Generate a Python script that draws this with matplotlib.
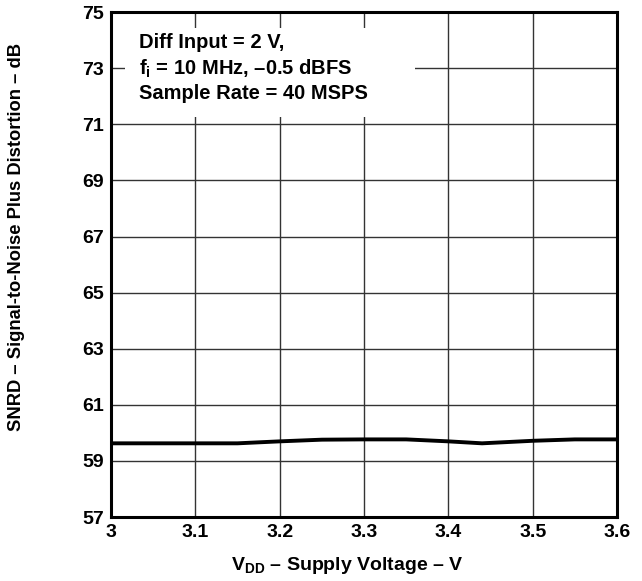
import matplotlib.pyplot as plt
from matplotlib.patches import Rectangle

plt.rcParams['font.family'] = ['Liberation Sans', 'DejaVu Sans']
plt.rcParams['font.weight'] = 'bold'
plt.rcParams['mathtext.fontset'] = 'custom'
plt.rcParams['mathtext.bf'] = 'Liberation Sans:bold'
plt.rcParams['mathtext.rm'] = 'Liberation Sans:bold'

vdd = [3.0, 3.1, 3.15, 3.2, 3.25, 3.3, 3.35, 3.4, 3.44, 3.5, 3.55, 3.6]
snrd = [59.63, 59.63, 59.63, 59.7, 59.76, 59.77, 59.77, 59.7, 59.63, 59.72, 59.77, 59.77]
xticks = [3, 3.1, 3.2, 3.3, 3.4, 3.5, 3.6]
xlabels = ["3", "3.1", "3.2", "3.3", "3.4", "3.5", "3.6"]
yticks = [57, 59, 61, 63, 65, 67, 69, 71, 73, 75]

fig = plt.figure(figsize=(6.42, 5.81), dpi=100)
ax = fig.add_axes([0.173, 0.110, 0.788, 0.869])
ax.plot(vdd, snrd, color='black', lw=2.8, zorder=3)
ax.set_xlim(3, 3.6)
ax.set_ylim(57, 75)
ax.set_xticks(xticks)
ax.set_xticklabels(xlabels)
ax.set_yticks(yticks)
ax.grid(True, color='#333333', lw=1)
ax.tick_params(length=0, labelsize=14, pad=5)
for lbl in ax.get_xticklabels() + ax.get_yticklabels():
    lbl.set_fontweight('bold')
for s in ax.spines.values():
    s.set_linewidth(2.2)
ax.set_xlabel(r"V$_\mathrm{DD}$ – Supply Voltage – V", fontsize=14, fontweight='bold')
ax.xaxis.set_label_coords(0.466, -0.075)
ax.set_ylabel("SNRD – Signal-to-Noise Plus Distortion – dB", fontsize=13.2, fontweight='bold')
ax.yaxis.set_label_coords(-0.17, 0.554)

# white box behind the annotation
ax.add_patch(Rectangle((3.0166, 71.26), 0.344, 3.17, facecolor='white', edgecolor='none', zorder=4))
ax.text(3.0332, 74.25, "Diff Input = 2 V,\nf$_\\mathrm{i}$ = 10 MHz, –0.5 dBFS\nSample Rate = 40 MSPS",
        fontsize=14.5, fontweight='bold', va='top', ha='left', linespacing=1.3, zorder=5)
fig.savefig("out.png", dpi=100)
